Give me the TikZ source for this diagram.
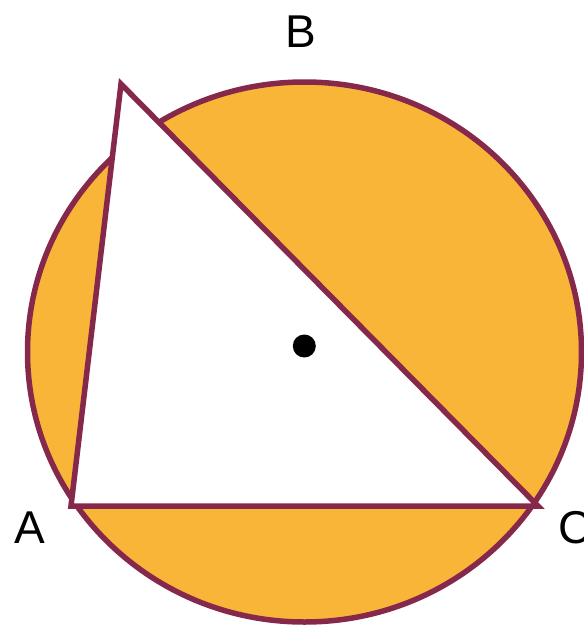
\documentclass[tikz,border=0pt]{standalone}
\usepackage{fontspec}
\setmainfont{Liberation Sans}
\usetikzlibrary{calc}
\definecolor{arcOrange}{RGB}{249,181,56}
\definecolor{edgeMaroon}{RGB}{134,40,75}

\begin{document}
\begin{tikzpicture}[
    x=1pt, y=-1pt,
    edge/.style={draw=edgeMaroon, line width=5.5pt, line join=miter},
    vlabel/.style={font=\fontsize{46}{50}\selectfont, text=black, inner sep=0pt}
  ]
    \useasboundingbox (0,0) rectangle (584,627);

    \coordinate (O) at (304.5,352);
    \coordinate (A) at (71,506);
    \coordinate (B) at (121,84);
    \coordinate (C) at (538,506);

    % circumscribed curve with its segments
    \fill[arcOrange] (O) ellipse [x radius=277, y radius=270];
    \draw[edge] (O) ellipse [x radius=277, y radius=270];

    % triangle
    \fill[white] (A) -- (B) -- (C) -- cycle;
    \draw[edge] (A) -- (B) -- (C) -- cycle;

    \fill[black] (304.3,346) circle [radius=11.5];

    \node[vlabel] (labB) at (301,32) {B};
    \node[vlabel] (labA) at (30,528) {A};
    \node[vlabel] (labC) at (575,528) {C};
  \end{tikzpicture}
\end{document}
